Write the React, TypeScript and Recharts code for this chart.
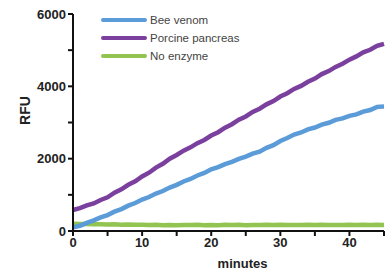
import React from 'react';
import { LineChart, Line, XAxis, YAxis, Label } from 'recharts';

const minutes = [0,1,2,3,4,5,6,7,8,9,10,11,12,13,14,15,16,17,18,19,20,21,22,23,24,25,26,27,28,29,30,31,32,33,34,35,36,37,38,39,40,41,42,43,44,45];

const beeVenom = [100,145,225,295,375,440,535,605,700,775,870,940,1035,1105,1200,1275,1370,1440,1535,1605,1705,1765,1850,1912,1995,2055,2138,2195,2298,2372,2488,2570,2668,2725,2810,2862,2940,2992,3072,3112,3182,3225,3302,3345,3432,3440];

const porcinePancreas = [580,632,708,762,858,932,1058,1152,1278,1372,1508,1612,1752,1858,1998,2102,2222,2312,2428,2518,2638,2732,2858,2952,3078,3168,3292,3382,3502,3592,3718,3808,3928,4012,4128,4215,4338,4422,4538,4625,4738,4828,4938,5012,5118,5175];

const noEnzyme = [200,192,195,186,190,182,185,176,180,171,175,166,170,162,166,160,167,164,170,161,166,162,170,166,171,162,167,163,170,166,174,165,169,163,170,167,172,164,168,163,171,167,174,166,170,168];

const yTicks = [0,1000,2000,3000,4000,5000,6000];
const xTicks = [0,5,10,15,20,25,30,35,40,45];

const seriesNames = ['Bee venom', 'Porcine pancreas', 'No enzyme'];
const colors = ['#5b9bd8', '#7b3f9e', '#92c452'];

const data = minutes.map((m, i) => ({
  m,
  bee: beeVenom[i],
  porcine: porcinePancreas[i],
  none: noEnzyme[i],
}));

const tickStyle = { fontFamily: 'Liberation Sans, Arial, sans-serif', fontSize: 13, fontWeight: 700, fill: '#222' };

const LegendBox = () => (
  <div style={{ position: 'absolute', left: 101, top: 11, fontFamily: 'Liberation Sans, Arial, sans-serif', fontSize: 11.5, color: '#444' }}>
    {seriesNames.map((n, i) => (
      <div key={n} style={{ display: 'flex', alignItems: 'center', height: 18 }}>
        <div style={{ width: 46, height: 3.5, background: colors[i], borderRadius: 2, marginRight: 3 }} />
        <span>{n}</span>
      </div>
    ))}
  </div>
);

export default function App() {
  return (
    <div style={{ position: 'absolute', left: 0, top: 0, width: 391, height: 272, background: '#fff' }}>
      <LineChart width={391} height={272} data={data} margin={{ top: 14, right: 7, left: 0, bottom: 0 }}>
        <XAxis
          dataKey="m"
          type="number"
          domain={[0, 45]}
          ticks={xTicks}
          tickFormatter={(v: number) => (v % 10 === 0 ? String(v) : '')}
          height={41}
          axisLine={{ stroke: '#111', strokeWidth: 2 }}
          tickLine={{ stroke: '#111', strokeWidth: 2 }}
          tickSize={5}
          tick={tickStyle}
          interval={0}
        >
          <Label value="minutes" position="insideBottom" offset={4} dx={14} style={{ ...tickStyle, fill: '#222' }} />
        </XAxis>
        <YAxis
          type="number"
          domain={[0, 6000]}
          ticks={yTicks}
          tickFormatter={(v: number) => (v % 2000 === 0 ? String(v) : '')}
          width={73}
          axisLine={{ stroke: '#111', strokeWidth: 2 }}
          tickLine={{ stroke: '#111', strokeWidth: 2 }}
          tickSize={5}
          tick={tickStyle}
          interval={0}
        >
          <Label value="RFU" angle={-90} position="insideLeft" offset={25} dy={-12} style={{ ...tickStyle, fontSize: 14, textAnchor: 'middle' }} />
        </YAxis>
        <Line dataKey="none" stroke={colors[2]} strokeWidth={4.5} dot={false} isAnimationActive={false} />
        <Line dataKey="bee" stroke={colors[0]} strokeWidth={4.5} dot={false} isAnimationActive={false} />
        <Line dataKey="porcine" stroke={colors[1]} strokeWidth={4.5} dot={false} isAnimationActive={false} />
      </LineChart>
      <LegendBox />
    </div>
  );
}
